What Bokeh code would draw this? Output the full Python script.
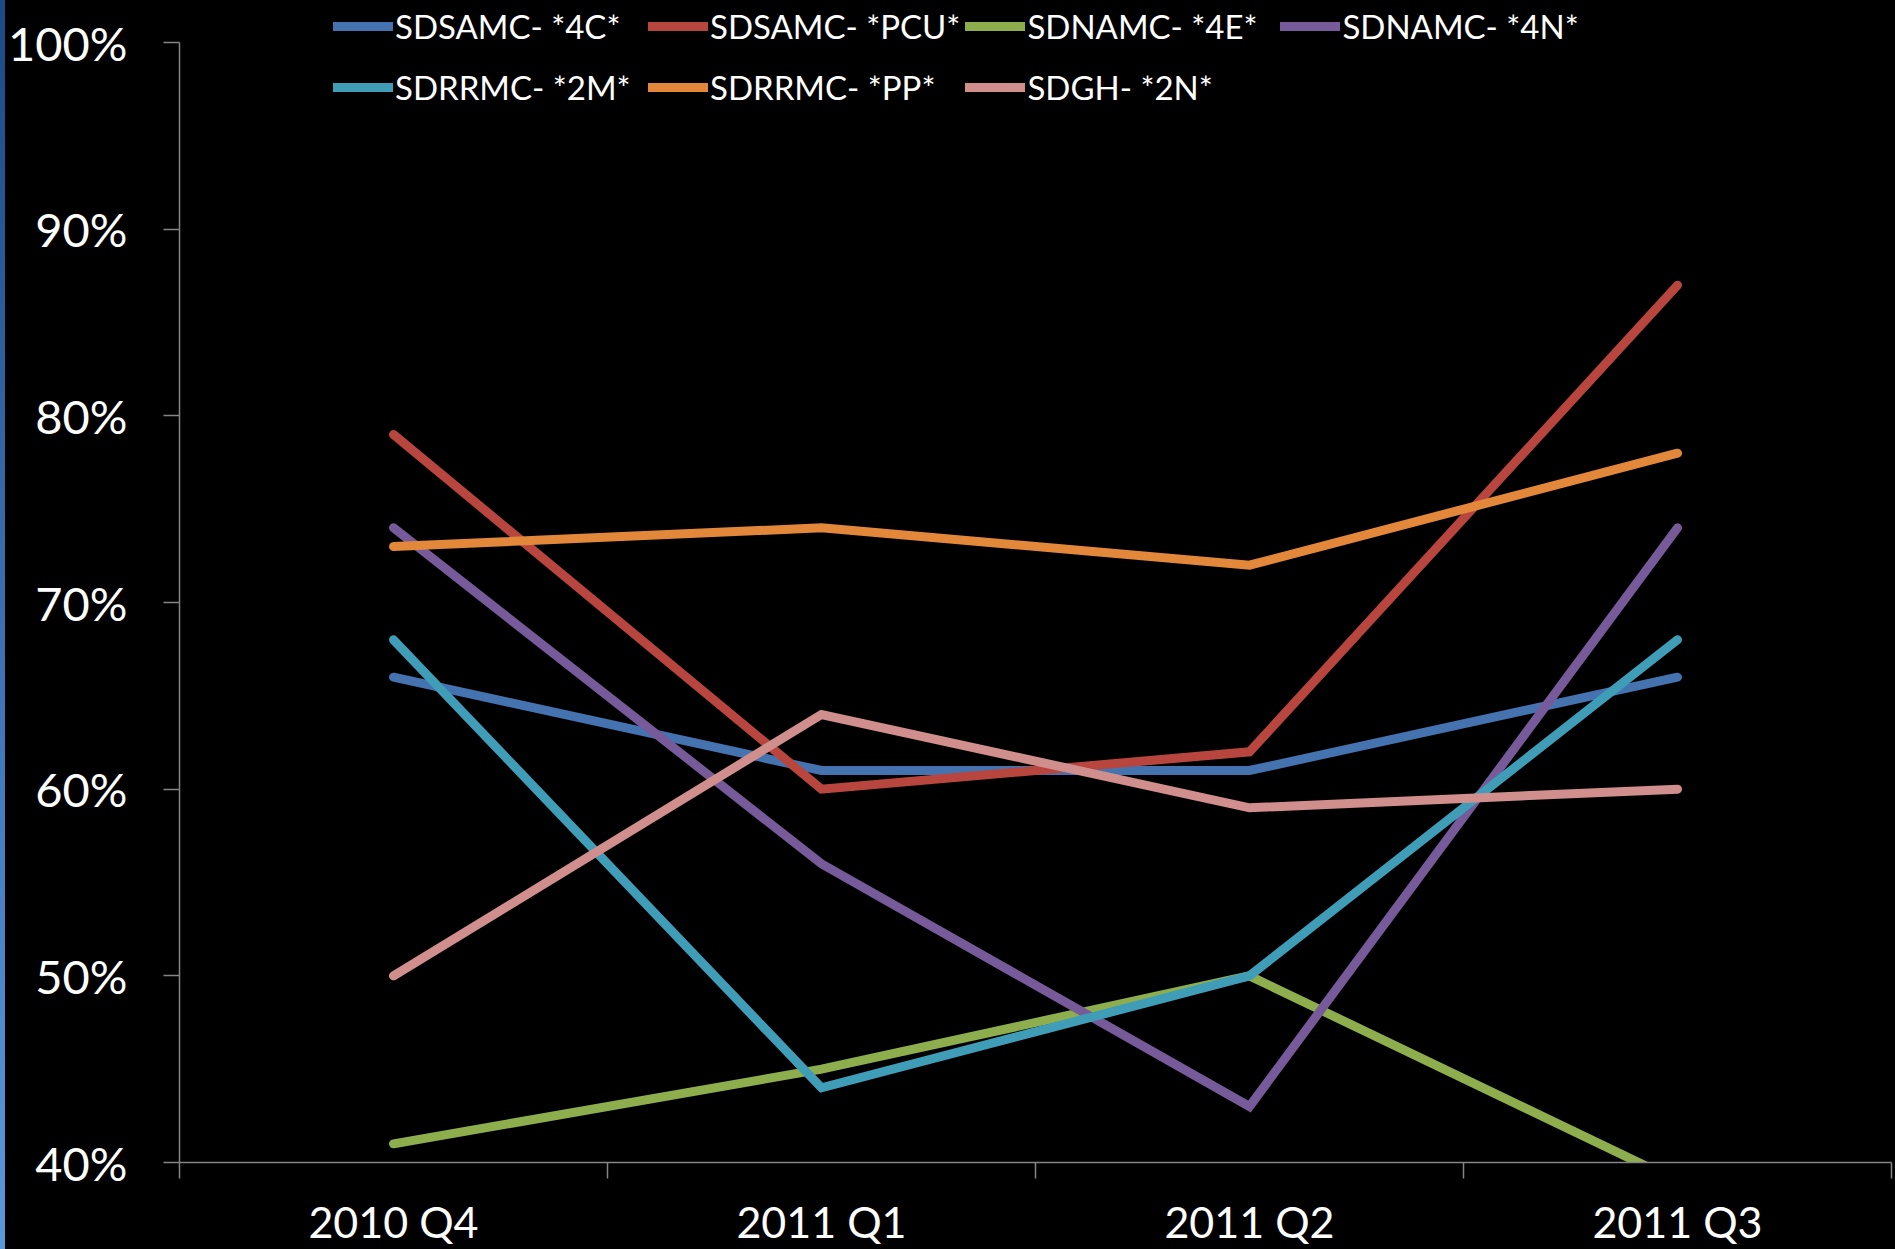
from bokeh.plotting import figure
from bokeh.models import (FixedTicker, NumeralTickFormatter, Legend, LegendItem,
                          Range1d, GlobalInlineStyleSheet)
from bokeh.embed import file_html
from bokeh.resources import INLINE

# ---- data ----
quarters = ["2010 Q4", "2011 Q1", "2011 Q2", "2011 Q3"]
series_names = ["SDSAMC- *4C*", "SDSAMC- *PCU*", "SDNAMC- *4E*", "SDNAMC- *4N*",
                "SDRRMC- *2M*", "SDRRMC- *PP*", "SDGH- *2N*"]
sdsamc_4c = [0.66, 0.61, 0.61, 0.66]
sdsamc_pcu = [0.79, 0.60, 0.62, 0.87]
sdnamc_4e = [0.41, 0.45, 0.50, 0.39]
sdnamc_4n = [0.74, 0.56, 0.43, 0.74]
sdrrmc_2m = [0.68, 0.44, 0.50, 0.68]
sdrrmc_pp = [0.73, 0.74, 0.72, 0.78]
sdgh_2n = [0.50, 0.64, 0.59, 0.60]
y_ticks = [0.4, 0.5, 0.6, 0.7, 0.8, 0.9, 1.0]

series_values = [sdsamc_4c, sdsamc_pcu, sdnamc_4e, sdnamc_4n, sdrrmc_2m, sdrrmc_pp, sdgh_2n]
colors = ["#4573B0", "#B8463F", "#8EAE4E", "#765A9A", "#3F9DB8", "#E3883A", "#D08E8C"]

# category centres on a numeric axis so that ticks can sit on category boundaries
x_pos = [i + 0.5 for i in range(len(quarters))]
boundaries = list(range(len(quarters) + 1))

FONT = "Lato"

p = figure(width=1895, height=1249, output_backend="svg", toolbar_location=None,
           x_range=Range1d(0, len(quarters)), y_range=Range1d(0.4, 1.0225),
           min_border_left=179, min_border_right=4, min_border_top=0, min_border_bottom=87,
           background_fill_color="black", border_fill_color=None, outline_line_color=None)

p.stylesheets = [GlobalInlineStyleSheet(
    css="html,body{background:#000 linear-gradient(#1b4a86,#5c98dc) 0 0/5px 100% no-repeat;}")]

p.xgrid.visible = False
p.ygrid.visible = False

axis_color = "#858585"

# y axis
p.yaxis.ticker = FixedTicker(ticks=y_ticks)
p.yaxis.formatter = NumeralTickFormatter(format="0%")
p.yaxis.bounds = (0.4, 1.0)
p.yaxis.axis_line_color = axis_color
p.yaxis.axis_line_width = 1.5
p.yaxis.major_tick_line_color = axis_color
p.yaxis.major_tick_line_width = 1.5
p.yaxis.major_tick_out = 16
p.yaxis.major_tick_in = 0
p.yaxis.minor_tick_line_color = None
p.yaxis.major_label_standoff = 36
p.yaxis.major_label_text_font = FONT
p.yaxis.major_label_text_font_size = "47px"
p.yaxis.major_label_text_color = "white"

# x axis
p.xaxis.ticker = FixedTicker(ticks=x_pos, minor_ticks=boundaries)
p.xaxis.major_label_overrides = {xp: q for xp, q in zip(x_pos, quarters)}
p.xaxis.axis_line_color = axis_color
p.xaxis.axis_line_width = 1.5
p.xaxis.major_tick_line_color = None
p.xaxis.major_tick_out = 0
p.xaxis.major_tick_in = 0
p.xaxis.minor_tick_line_color = axis_color
p.xaxis.minor_tick_line_width = 1.5
p.xaxis.minor_tick_out = 16
p.xaxis.minor_tick_in = 0
p.xaxis.major_label_standoff = 17
p.xaxis.major_label_text_font = FONT
p.xaxis.major_label_text_font_size = "43px"
p.xaxis.major_label_text_color = "white"

items = []
for name, vals, c in zip(series_names, series_values, colors):
    r = p.line(x_pos, vals, line_color=c, line_width=9, line_cap="round", line_join="miter")
    items.append(LegendItem(label=name, renderers=[r]))

legend = Legend(items=items, orientation="horizontal", ncols=4,
                location=(154, 1047.3), padding=0, margin=0, spacing=5,
                glyph_width=60, glyph_height=56, label_standoff=2,
                label_width=248, label_height=56,
                label_text_font=FONT, label_text_font_size="33px",
                label_text_color="white", label_text_baseline="middle",
                background_fill_alpha=0, border_line_color=None)
p.add_layout(legend, "center")

open("out.html", "w").write(file_html(p, INLINE))
